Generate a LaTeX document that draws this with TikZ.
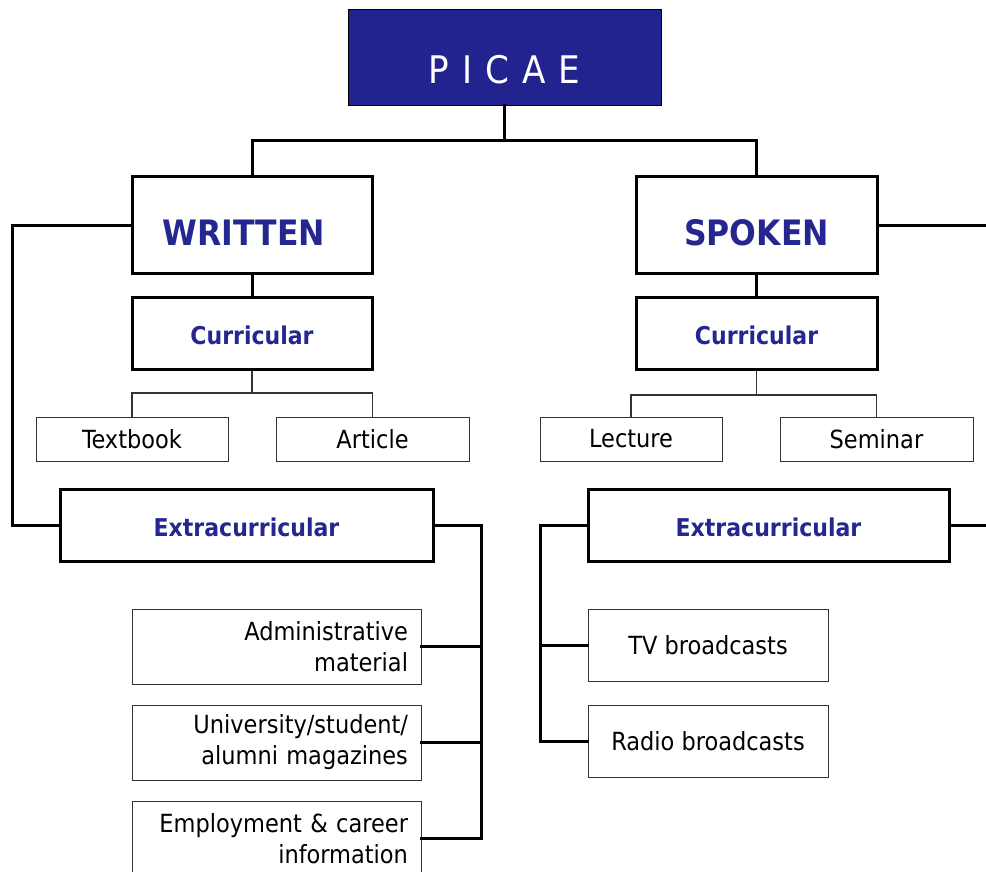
\documentclass[tikz,border=0pt]{standalone}
\usepackage{fontspec}
\setmainfont{DejaVu Sans Condensed}
\definecolor{picfill}{RGB}{35,35,143}
\definecolor{pictext}{RGB}{38,38,145}
\definecolor{thinline}{RGB}{50,50,50}
\begin{document}
\begin{tikzpicture}[x=1pt,y=-1pt,
  bigbox/.style={draw=black,line width=3pt,rectangle,inner sep=0pt,fill=white},
  smallbox/.style={draw=thinline,line width=1pt,rectangle,inner sep=0pt,fill=white,font=\fontsize{25}{31}\selectfont},
  headtxt/.style={font=\fontsize{35}{40}\selectfont\bfseries,text=pictext,text height=41.5pt,text depth=0pt},
  subtxt/.style={font=\fontsize{24.5}{30}\selectfont\bfseries,text=pictext,text height=23pt,text depth=0pt},
  thickcon/.style={line width=3pt,line cap=rect},
  thincon/.style={line width=1.2pt,draw=thinline}]
\useasboundingbox (0,0) rectangle (986,872);
% top
\node[draw=black,line width=0.8pt,fill=picfill,minimum width=313pt,minimum height=96pt,inner sep=0pt,
  text=white,font=\fontsize{38}{40}\selectfont,text height=53.5pt,text depth=0pt] (picae) at (504.5,57)
  {P\hspace{13pt}I\hspace{13pt}C\hspace{13pt}A\hspace{13pt}E};
\node[bigbox,minimum width=240pt,minimum height=96pt,headtxt] (written) at (252,225) {\hspace{-16pt}WRITTEN};
\node[bigbox,minimum width=241pt,minimum height=96pt,headtxt] (spoken) at (756.5,225) {SPOKEN};
\node[bigbox,minimum width=240pt,minimum height=72pt,subtxt,text height=23.9pt] (wcur) at (252,333) {Curricular};
\node[bigbox,minimum width=241pt,minimum height=72pt,subtxt,text height=23.9pt] (scur) at (756.5,333) {Curricular};
% curricular children
\node[smallbox,minimum width=192pt,minimum height=44pt] (textbook) at (132,439) {Textbook};
\node[smallbox,minimum width=193pt,minimum height=44pt] (article) at (372.5,439) {Article};
\node[smallbox,minimum width=182pt,minimum height=44pt] (lecture) at (631,439) {Lecture};
\node[smallbox,minimum width=193pt,minimum height=44pt] (seminar) at (876.5,439) {Seminar};
% extracurricular
\node[bigbox,minimum width=373pt,minimum height=72pt,subtxt] (wext) at (246.5,525) {Extracurricular};
\node[bigbox,minimum width=361pt,minimum height=72pt,subtxt] (sext) at (768.5,525) {Extracurricular};
% written extracurricular children
\node[smallbox,minimum width=289pt,minimum height=75pt,align=right,text width=263pt] (admin) at (276.5,646.5) {Administrative\\material};
\node[smallbox,minimum width=289pt,minimum height=75pt,align=right,text width=263pt] (univ) at (276.5,742.5) {University/student/\\alumni magazines};
\node[smallbox,minimum width=289pt,minimum height=75pt,align=right,text width=263pt] (employ) at (276.5,838.5) {Employment \& career\\information};
% spoken extracurricular children
\node[smallbox,minimum width=240pt,minimum height=72pt] (tv) at (708,645) {TV broadcasts};
\node[smallbox,minimum width=240pt,minimum height=72pt] (radio) at (708,741) {Radio broadcasts};
% connectors
\coordinate (topbus) at (504.5,141);
\draw[thickcon] (picae.south) -- (topbus);
\draw[thickcon] (written.north) |- (topbus) -| (spoken.north);
\draw[thickcon] (written.south) -- (wcur.north);
\draw[thickcon] (spoken.south) -- (scur.north);
\draw[thincon] (textbook.north) |- (wcur.south |- 0,393) -| (article.north);
\draw[thincon] (wcur.south) -- (wcur.south |- 0,393);
\draw[thincon] (lecture.north) |- (scur.south |- 0,395) -| (seminar.north);
\draw[thincon] (scur.south) -- (scur.south |- 0,395);
\coordinate (wl) at (12,225);
\draw[thickcon] (written.west) -- (wl) |- (wext.west);
\coordinate (wb) at (481,525);
\draw[thickcon] (wext.east) -- (wb) |- (employ.east);
\draw[thickcon] (admin.east) -- (admin.east -| wb);
\draw[thickcon] (univ.east) -- (univ.east -| wb);
\coordinate (sr) at (990,225);
\draw[thickcon] (spoken.east) -- (sr);
\coordinate (sr2) at (990,525);
\draw[thickcon] (sext.east) -- (sr2);
\coordinate (sb) at (540,525);
\draw[thickcon] (sext.west) -- (sb) |- (radio.west);
\draw[thickcon] (tv.west) -- (tv.west -| sb);
\end{tikzpicture}
\end{document}
